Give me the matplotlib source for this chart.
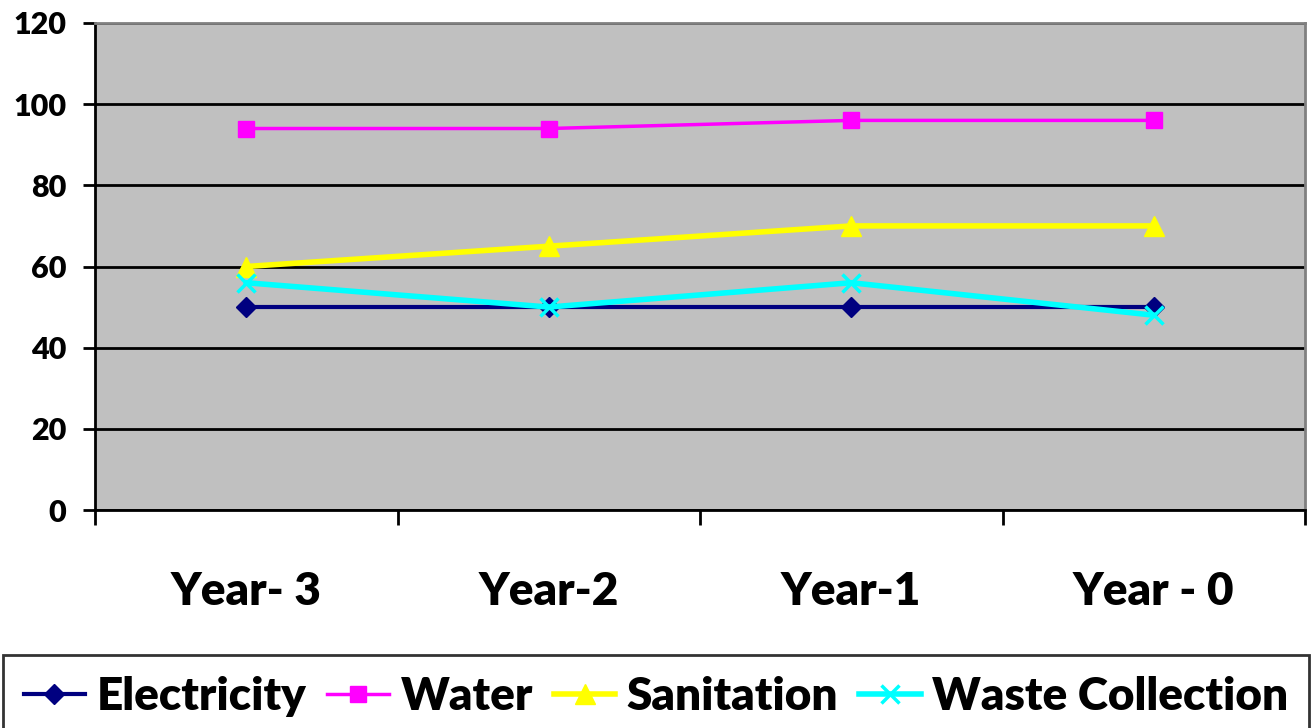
import matplotlib
matplotlib.use("Agg")
import matplotlib.pyplot as plt
import numpy as np

categories = ["Year- 3", "Year-2", "Year-1", "Year - 0"]
electricity = [50, 50, 50, 50]
water = [94, 94, 96, 96]
sanitation = [60, 65, 70, 70]
waste = [56, 50, 56, 48]

plt.rcParams['font.family'] = ['Lato', 'DejaVu Sans']
plt.rcParams['font.weight'] = 'heavy'

fig = plt.figure(figsize=(13.12, 7.28), dpi=100)
ax = fig.add_axes([95/1312, 1-510/728, (1305-95)/1312, (510-23)/728])
ax.set_facecolor('#C0C0C0')

x = np.arange(len(categories))
ax.plot(x, electricity, color='#000080', lw=3, marker='D', ms=10.5, label='Electricity', zorder=3)
ax.plot(x, water, color='#FF00FF', lw=2.5, marker='s', ms=12, label='Water', zorder=3)
ax.plot(x, sanitation, color='#FFFF00', lw=4, marker='^', ms=14, label='Sanitation', zorder=3)
ax.plot(x, waste, color='#00FFFF', lw=4, marker='x', ms=13, mew=2.5, label='Waste Collection', zorder=4)

ax.set_xlim(-0.5, len(categories) - 0.5)
ax.set_ylim(0, 120)
ax.set_yticks(range(0, 121, 20))
ax.yaxis.grid(True, color='black', lw=2)
ax.set_axisbelow(True)

ax.set_xticks(np.arange(-0.5, len(categories), 1.0))
ax.set_xticklabels([])
ax.set_xticks(x, minor=True)
ax.set_xticklabels(categories, minor=True, fontsize=33, fontweight='heavy')
ax.tick_params(axis='x', which='major', length=11, width=2, direction='out')
ax.tick_params(axis='x', which='minor', length=0, pad=44)
ax.tick_params(axis='y', which='major', length=8.6, width=2, direction='out', labelsize=22, pad=12)
for lbl in ax.get_yticklabels():
    lbl.set_fontweight('heavy')

ax.spines['left'].set_color('black')
ax.spines['left'].set_linewidth(2)
ax.spines['bottom'].set_color('black')
ax.spines['bottom'].set_linewidth(2)
ax.spines['top'].set_color('#808080')
ax.spines['top'].set_linewidth(2)
ax.spines['right'].set_color('#808080')
ax.spines['right'].set_linewidth(2)

leg = fig.legend(loc='upper center', bbox_to_anchor=(0.5, 1 - 655/728), ncol=4,
                 fontsize=33, frameon=True, fancybox=False, edgecolor='black',
                 handlelength=1.35, columnspacing=0.45, handletextpad=0.25,
                 borderpad=0.45, borderaxespad=0.0)
leg.get_frame().set_linewidth(2)
for t in leg.get_texts():
    t.set_fontweight('heavy')

fig.savefig("out.png", dpi=100)
